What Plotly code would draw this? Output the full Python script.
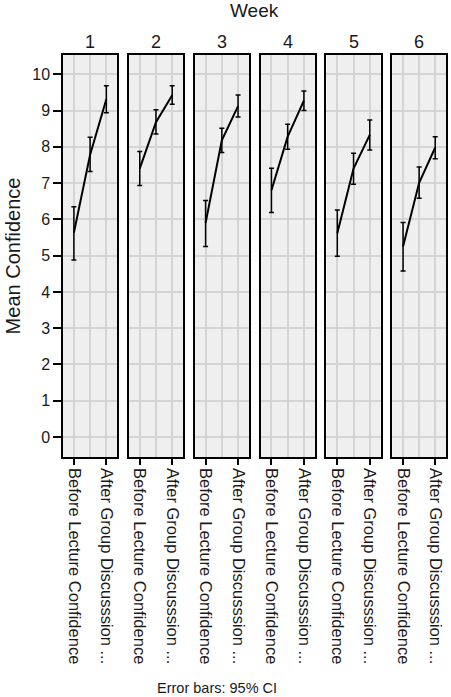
import plotly.graph_objects as go

# ---- data ----
categories = ["Before Lecture Confidence", "After Lecture Confidence", "After Group Discusssion ..."]
shown_ticks = ["Before Lecture Confidence", "After Group Discusssion ..."]
weeks = ["1", "2", "3", "4", "5", "6"]
means = [
    [5.63, 7.78, 9.31],
    [7.40, 8.68, 9.42],
    [5.90, 8.18, 9.12],
    [6.80, 8.28, 9.27],
    [5.62, 7.40, 8.33],
    [5.25, 7.01, 7.98],
]
ci_low = [
    [4.88, 7.32, 8.94],
    [6.93, 8.35, 9.17],
    [5.25, 7.84, 8.82],
    [6.19, 7.93, 9.00],
    [4.98, 6.97, 7.91],
    [4.58, 6.58, 7.67],
]
ci_high = [
    [6.35, 8.26, 9.68],
    [7.87, 9.02, 9.68],
    [6.52, 8.51, 9.43],
    [7.41, 8.62, 9.54],
    [6.26, 7.82, 8.74],
    [5.91, 7.44, 8.28],
]
y_ticks = list(range(0, 11))

# ---- layout geometry ----
W, H = 451, 697
ml, mr, mt, mb = 63, 3, 55, 240
pw = W - ml - mr
panel_w = 54.5
step = 66.2

FONT = "Liberation Sans, Arial, sans-serif"
GRID = "#d4d4d4"
BG = "#efefef"
TXT = "#1a1a1a"

fig = go.Figure()
xs = list(range(len(categories)))
tick_idx = [categories.index(c) for c in shown_ticks]

for i, wk in enumerate(weeks):
    n = "" if i == 0 else str(i + 1)
    m = means[i]
    plus = [h - v for h, v in zip(ci_high[i], m)]
    minus = [v - l for v, l in zip(m, ci_low[i])]
    fig.add_trace(go.Scatter(
        x=xs, y=m, mode="lines",
        line=dict(color="black", width=2),
        error_y=dict(type="data", array=plus, arrayminus=minus, color="black",
                     thickness=1.5, width=2.5),
        xaxis="x" + n, yaxis="y" + n, showlegend=False, hoverinfo="skip",
    ))
    left = (step * i) / pw
    right = (step * i + panel_w) / pw
    fig.layout["xaxis" + n] = dict(
        domain=[left, min(right, 1)], range=[-0.67, 2.67],
        tickmode="array", tickvals=tick_idx, ticktext=shown_ticks,
        tickangle=90, ticks="outside", ticklen=6, tickwidth=1.5, tickcolor="black",
        tickfont=dict(family=FONT, size=16.5, color=TXT),
        showgrid=True, gridcolor=GRID, gridwidth=1.5,
        minor=dict(dtick=1, tick0=0, showgrid=True, gridcolor=GRID, gridwidth=1.5, ticks=""),
        showline=True, linecolor="black", linewidth=1.5, mirror=True,
        zeroline=False, anchor="y" + n, fixedrange=True,
    )
    fig.layout["yaxis" + n] = dict(
        range=[-0.55, 10.53], tickmode="array", tickvals=y_ticks,
        ticktext=[str(v) for v in y_ticks],
        showticklabels=(i == 0), ticks="outside" if i == 0 else "",
        ticklen=8, tickwidth=1.5, tickcolor="black",
        tickfont=dict(family=FONT, size=16, color=TXT),
        showgrid=True, gridcolor=GRID, gridwidth=1.5,
        showline=True, linecolor="black", linewidth=1.5, mirror=True,
        zeroline=False, anchor="x" + n, fixedrange=True,
        title=dict(text="Mean Confidence", font=dict(family=FONT, size=20, color=TXT),
                   standoff=6) if i == 0 else None,
    )
    fig.add_annotation(
        text=wk, xref="x" + n + " domain", yref="paper", x=0.5, y=1.0,
        yanchor="bottom", yshift=1, showarrow=False,
        font=dict(family=FONT, size=18, color=TXT),
    )

fig.add_annotation(text="Week", xref="paper", yref="paper", x=0.5, y=1.0, yshift=32,
                   yanchor="bottom", showarrow=False,
                   font=dict(family=FONT, size=19, color=TXT))
fig.add_annotation(text="Error bars: 95% CI", xref="paper", yref="paper",
                   x=(218 - ml) / pw, y=0, yshift=-(688 - (H - mb)), yanchor="middle",
                   showarrow=False, font=dict(family=FONT, size=14.5, color=TXT))

fig.update_layout(
    width=W, height=H, margin=dict(l=ml, r=mr, t=mt, b=mb),
    paper_bgcolor="white", plot_bgcolor=BG,
    font=dict(family=FONT, color=TXT),
)
fig.write_html("out.html")
